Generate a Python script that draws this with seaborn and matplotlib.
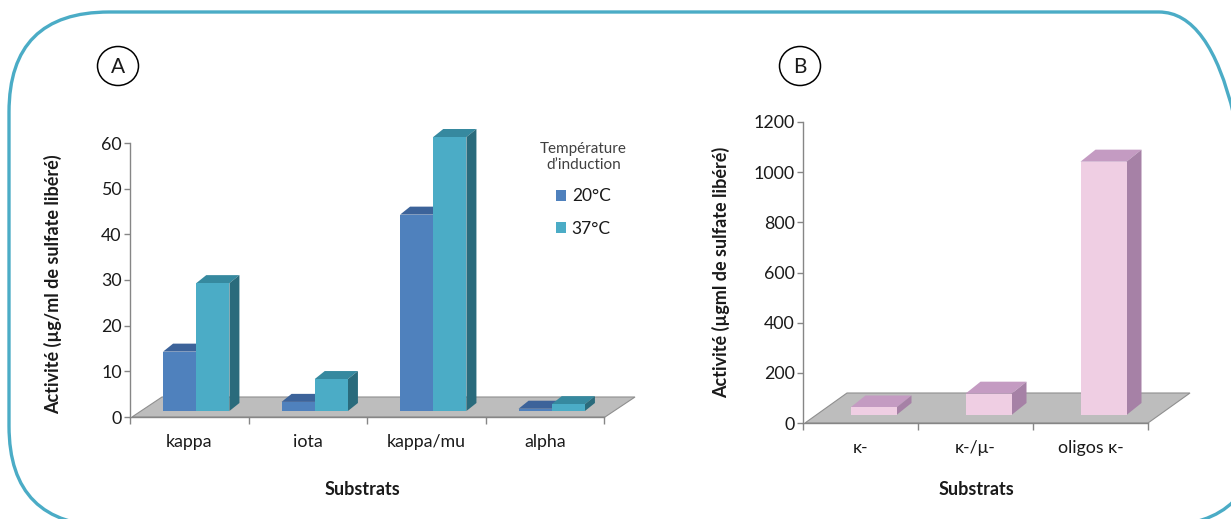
import numpy as np
import pandas as pd
import matplotlib
matplotlib.use("Agg")
import matplotlib.pyplot as plt
import seaborn as sns
from matplotlib.patches import Polygon, Patch, FancyBboxPatch, Ellipse
from matplotlib.transforms import IdentityTransform

# ---------------- data ----------------
substrates_a = ["kappa", "iota", "kappa/mu", "alpha"]
temperatures = ["20°C", "37°C"]
activity_20 = [13, 2, 43, 0.5]
activity_37 = [28, 7, 60, 1.5]
yticks_a = [0, 10, 20, 30, 40, 50, 60]

substrates_b = ["κ-", "κ-/μ-", "oligos κ-"]
activity_b = [30, 85, 1010]
yticks_b = [0, 200, 400, 600, 800, 1000, 1200]

# ---------------- style ----------------
sns.set_theme(style="white")
plt.rcParams["font.family"] = ["Lato", "DejaVu Sans"]
TXT = "#1a1a1a"
AXC = "#868686"
BLUE, BLUE_TOP, BLUE_SIDE = "#4F81BD", "#3C639A", "#345785"
CYAN, CYAN_TOP, CYAN_SIDE = "#4BACC6", "#36899F", "#2A6B7C"
PINK, PINK_TOP, PINK_SIDE = "#EFCEE3", "#C49BC2", "#A681A6"
FLOOR = "#BDBDBD"
FRAME = "#4BACC6"
TICK_FS = 12.8
LABEL_FS = 13

W, H = 1231, 519
fig = plt.figure(figsize=(W / 100, H / 100), dpi=100)
fig.patch.set_facecolor("white")


def px_rect(x0, x1, y_top, y_bot):
    return [x0 / W, 1 - y_bot / H, (x1 - x0) / W, (y_bot - y_top) / H]


axA = fig.add_axes(px_rect(130, 604, 143, 417))
axB = fig.add_axes(px_rect(803, 1148, 122, 423))

# ---------------- panel A bars ----------------
dfA = pd.DataFrame({
    "Substrats": substrates_a * 2,
    "Activite": activity_20 + activity_37,
    "Temperature": [temperatures[0]] * len(substrates_a) + [temperatures[1]] * len(substrates_a),
})
sns.barplot(data=dfA, x="Substrats", y="Activite", hue="Temperature",
            order=substrates_a, hue_order=temperatures,
            palette=[BLUE, CYAN], saturation=1, width=0.56, gap=0,
            legend=False, ax=axA, linewidth=0, zorder=3)

# ---------------- panel B bars ----------------
sns.barplot(x=substrates_b, y=activity_b, color=PINK, saturation=1,
            width=0.40, ax=axB, linewidth=0, zorder=3)


def style_axis(ax, ylim, yticks, ncat):
    ax.set_xlim(-0.5, ncat - 0.5)
    ax.set_ylim(*ylim)
    ax.set_yticks(yticks)
    ax.set_yticklabels([str(t) for t in yticks])
    ax.set_xticks(np.arange(ncat + 1) - 0.5, minor=True)
    for s in ["top", "right"]:
        ax.spines[s].set_visible(False)
    for s in ["left", "bottom"]:
        ax.spines[s].set_color(AXC)
        ax.spines[s].set_linewidth(1)
    ax.tick_params(axis="y", which="major", direction="out", length=4, width=1,
                   color=AXC, labelsize=TICK_FS, labelcolor=TXT, pad=2, left=True)
    ax.tick_params(axis="x", which="major", length=0, labelsize=TICK_FS,
                   labelcolor=TXT, pad=12)
    ax.tick_params(axis="x", which="minor", direction="out", length=5, width=1,
                   color=AXC, bottom=True)
    ax.set_facecolor("none")
    ax.grid(False)


style_axis(axA, (0, 60), yticks_a, len(substrates_a))
style_axis(axB, (0, 1200), yticks_b, len(substrates_b))

axA.set_ylabel("Activité (µg/ml de sulfate libéré)", fontsize=LABEL_FS, fontweight="bold", color=TXT)
axA.yaxis.set_label_coords(-0.143, 0.485)
axA.set_xlabel("Substrats", fontsize=LABEL_FS, fontweight="bold", color=TXT)
axA.xaxis.set_label_coords(0.49, -0.234)

axB.set_ylabel("Activité (µgml de sulfate libéré)", fontsize=LABEL_FS, fontweight="bold", color=TXT)
axB.yaxis.set_label_coords(-0.212, 0.5)
axB.set_xlabel("Substrats", fontsize=LABEL_FS, fontweight="bold", color=TXT)
axB.xaxis.set_label_coords(0.504, -0.193)


# ---------------- pseudo 3D decorations ----------------
def poly_px(ax, pts, **kw):
    inv = ax.transData.inverted()
    data_pts = inv.transform(np.asarray(pts, dtype=float))
    p = Polygon(data_pts, closed=True, clip_on=False, **kw)
    ax.add_patch(p)
    return p


def decorate_bar(ax, bar, top_c, side_c, dx, dy, shift_x, shift_y):
    """Place the bar at mid depth of the 3D floor and add top and side faces."""
    x0, w, h = bar.get_x(), bar.get_width(), bar.get_height()
    p0 = ax.transData.transform((x0, 0.0)) + np.array([shift_x, shift_y])
    p1 = ax.transData.transform((x0 + w, h)) + np.array([shift_x, shift_y])
    inv = ax.transData.inverted()
    d0 = inv.transform(p0)
    d1 = inv.transform(p1)
    bar.set_xy((d0[0], d0[1]))
    bar.set_height(d1[1] - d0[1])
    bar.set_clip_on(False)
    x0p, y0p = p0
    x1p, ytp = p1
    poly_px(ax, [(x0p, ytp), (x1p, ytp), (x1p + dx, ytp + dy), (x0p + dx, ytp + dy)],
            facecolor=top_c, edgecolor="none", zorder=2)
    poly_px(ax, [(x1p, y0p), (x1p + dx, y0p + dy), (x1p + dx, ytp + dy), (x1p, ytp)],
            facecolor=side_c, edgecolor="none", zorder=2)


def add_floor(ax, right_px_extra, dx, dy):
    xl, xr = ax.get_xlim()
    a = ax.transData.transform((xl, 0.0))
    b = ax.transData.transform((xr, 0.0))
    b[0] += right_px_extra
    poly_px(ax, [(a[0] + 2, a[1]), (b[0], b[1]), (b[0] + dx, b[1] + dy), (a[0] + 2 + dx, a[1] + dy)],
            facecolor=FLOOR, edgecolor="#8f8f8f", linewidth=0.8, zorder=1)


add_floor(axA, 1, 30, 20)
add_floor(axB, 0, 42, 30)

for cont, (tc, sc) in zip(axA.containers, [(BLUE_TOP, BLUE_SIDE), (CYAN_TOP, CYAN_SIDE)]):
    for bar in cont:
        decorate_bar(axA, bar, tc, sc, 10, 8, 7, 6)

for cont in axB.containers:
    for bar in cont:
        decorate_bar(axB, bar, PINK_TOP, PINK_SIDE, 15, 12, 13, 8)

# ---------------- legend ----------------
handles = [Patch(facecolor=c, edgecolor="none") for c in [BLUE, CYAN]]
leg = axA.legend(handles, temperatures, title="Température\nd\u2019induction",
                 loc="upper left", bbox_to_anchor=(0.85, 1.03), frameon=False,
                 fontsize=12.5, title_fontsize=11, handlelength=0.58,
                 handleheight=0.58, handletextpad=0.35, labelspacing=0.95,
                 borderaxespad=0)
leg.get_title().set_color("#404040")
leg.get_title().set_multialignment("center")
for t in leg.get_texts():
    t.set_color(TXT)

# ---------------- frame and panel markers ----------------
frame = FancyBboxPatch((9, -7), 1250, 514, boxstyle="round,pad=0,rounding_size=100",
                       transform=IdentityTransform(), fill=False,
                       edgecolor=FRAME, linewidth=2.4)
fig.add_artist(frame)

for label, cx in [("A", 118), ("B", 800)]:
    circ = Ellipse((cx, H - 66), 41, 39, transform=IdentityTransform(),
                   fill=False, edgecolor="black", linewidth=1.1)
    fig.add_artist(circ)
    fig.text(cx, H - 67, label, transform=IdentityTransform(), ha="center",
             va="center", fontsize=15, color=TXT)

fig.savefig("out.png", dpi=100, facecolor="white")
